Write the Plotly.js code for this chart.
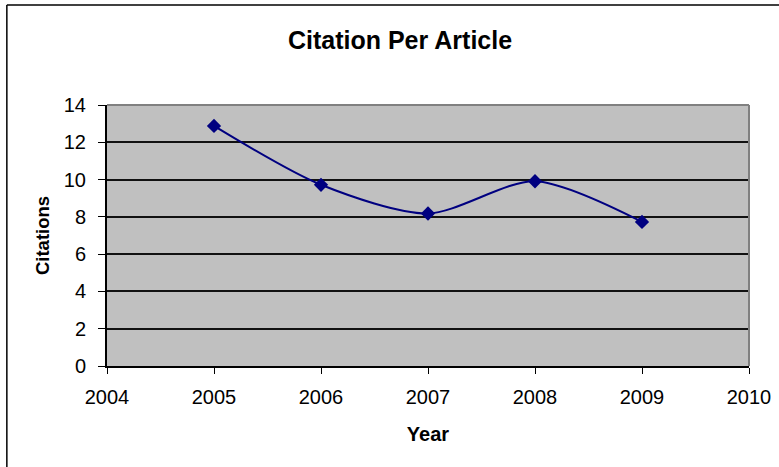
<!DOCTYPE html>
<html>
<head>
<meta charset="utf-8">
<script src="https://cdn.plot.ly/plotly-3.0.1.min.js"></script>
<style>
html,body{margin:0;padding:0;background:#fff;}
#chart{width:779px;height:467px;}
</style>
</head>
<body>
<div id="chart"></div>
<script>
const years = [2005, 2006, 2007, 2008, 2009];
const citations = [12.88, 9.72, 8.18, 9.91, 7.73];
const xTicks = [2004, 2005, 2006, 2007, 2008, 2009, 2010];
const yTicks = [0, 2, 4, 6, 8, 10, 12, 14];

const FONT = "Liberation Sans, Arial, sans-serif";

const trace = {
  x: years,
  y: citations,
  type: 'scatter',
  mode: 'lines+markers',
  line: {color: '#000080', width: 2, shape: 'spline', smoothing: 0.8},
  marker: {symbol: 'diamond', size: 11, color: '#000080'},
  hoverinfo: 'x+y'
};

const layout = {
  width: 779,
  height: 467,
  margin: {l: 107, r: 30, t: 105, b: 101, pad: 0},
  paper_bgcolor: '#ffffff',
  plot_bgcolor: '#c0c0c0',
  showlegend: false,
  title: {
    text: '<b>Citation Per Article</b>',
    font: {family: FONT, size: 25, color: '#000'},
    xref: 'container', x: 0.5135, xanchor: 'center',
    yref: 'container', y: 0.913, yanchor: 'middle'
  },
  xaxis: {
    range: [2004, 2010],
    tickvals: xTicks,
    ticktext: xTicks.map(String),
    showgrid: false,
    zeroline: false,
    showline: true, linecolor: '#000', linewidth: 2,
    ticks: 'outside', ticklen: 6, tickcolor: '#000', tickwidth: 1,
    ticklabelstandoff: 6,
    tickfont: {family: FONT, size: 20, color: '#000'},
    title: {text: '<b>Year</b>', font: {family: FONT, size: 20, color: '#000'}, standoff: 20}
  },
  yaxis: {
    range: [0, 14],
    tickvals: yTicks,
    ticktext: yTicks.map(String),
    showgrid: true, gridcolor: '#111', gridwidth: 2,
    zeroline: false,
    showline: true, linecolor: '#000', linewidth: 2,
    ticks: 'outside', ticklen: 7, tickcolor: '#000', tickwidth: 1,
    ticklabelstandoff: 8,
    tickfont: {family: FONT, size: 20, color: '#000'},
    title: {text: '<b>Citations</b>', font: {family: FONT, size: 18.5, color: '#000'}, standoff: 9}
  },
  shapes: [
    {type: 'line', xref: 'paper', yref: 'paper', x0: 0, x1: 1, y0: 1, y1: 1, line: {color: '#808080', width: 2}},
    {type: 'line', xref: 'paper', yref: 'paper', x0: 1, x1: 1, y0: 0, y1: 1, line: {color: '#808080', width: 2}},
    {type: 'line', xref: 'paper', yref: 'paper', x0: -0.156, x1: -0.156, y0: 1.383, y1: -0.4, line: {color: '#000', width: 1.5}},
    {type: 'line', xref: 'paper', yref: 'paper', x0: -0.156, x1: 1.06, y0: 1.383, y1: 1.383, line: {color: '#000', width: 1.5}}
  ]
};

Plotly.newPlot('chart', [trace], layout, {displayModeBar: false, staticPlot: true});
</script>
</body>
</html>
